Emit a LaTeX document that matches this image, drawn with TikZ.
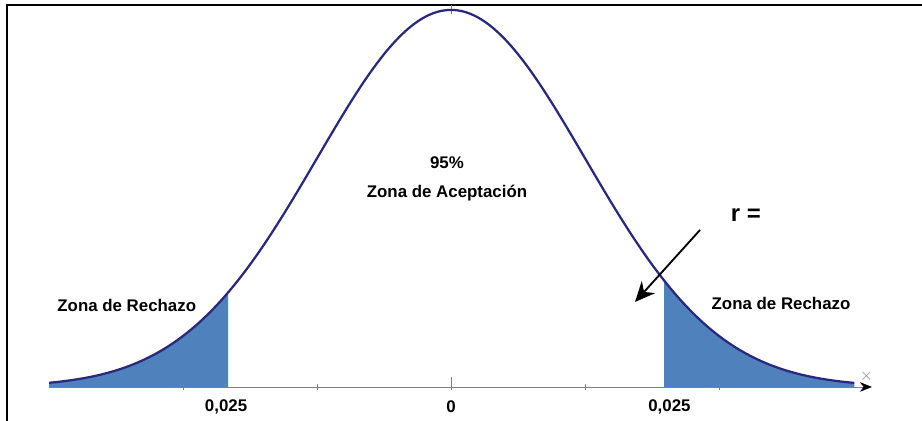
\documentclass[tikz,border=0pt]{standalone}
\usepackage{fontspec}
\setmainfont{Liberation Sans}
\usepackage{tikz}
\usetikzlibrary{arrows.meta}
\usepackage{xcolor}
\definecolor{curva}{RGB}{40,40,125}
\definecolor{relleno}{RGB}{79,129,189}

\begin{document}
\begin{tikzpicture}[xscale=3.35,yscale=9.425,
  lbl/.style={font=\fontsize{12}{14}\selectfont\bfseries},
  marca/.style={gray,line width=0.6pt}]
\useasboundingbox (-3.366,-0.0902) rectangle (3.515,1.0265);
\draw [line width=1.4pt] (-3.313,-0.0902) -- (-3.313,1.0133) -- (3.515,1.0133);

% zonas de rechazo
\fill [relleno] (-3,0) -- plot[samples=60,domain=-3:-1.664](\x,{exp(-\x*\x/2)}) -- (-1.664,0) -- cycle;
\fill [relleno] (1.59,0) -- plot[samples=60,domain=1.59:3.01](\x,{exp(-\x*\x/2)}) -- (3.01,0) -- cycle;

% eje
\coordinate (ejeA) at (-3,0);
\coordinate (ejeB) at (3.14,0);
\draw [gray] [-{Stealth[black,length=3mm,width=2.4mm]}] (ejeA) -- (ejeB);
\foreach \t in {-2,-1,1,2} \draw [marca] (\t,-0.008) -- (\t,0.008);
\draw [marca] (0,-0.008) -- (0,0.026);
\draw [marca] (0,0.99) -- (0,1.012);
\node [text=gray,font=\large] (equis) at (3.10,0.029) {$\times$};

\draw [curva,line width=1.6pt,samples=200,domain=-3:3.01] plot(\x,{exp(-\x*\x/2)});

\node [lbl] (izq) at (-1.679,-0.053) {0,025};
\node [lbl] (cero) at (0,-0.053) {0};
\node [lbl] (der) at (1.63,-0.053) {0,025};
\node [lbl] (pct) at (-0.03,0.594) {95\%};
\node [lbl] (acep) at (-0.03,0.5146) {Zona de Aceptación};
\node [lbl] (rechI) at (-2.42,0.2175) {Zona de Rechazo};
\node [lbl] (rechD) at (2.463,0.2228) {Zona de Rechazo};
\node [font=\fontsize{17}{20}\selectfont\bfseries] (erre) at (2.2,0.456) {r =};

\coordinate (flechaA) at (1.858,0.4164);
\coordinate (flechaB) at (1.373,0.2255);
\draw [line width=1.3pt,-{Stealth[length=5mm,width=4.5mm]}] (flechaA) -- (flechaB);
\end{tikzpicture}
\end{document}
